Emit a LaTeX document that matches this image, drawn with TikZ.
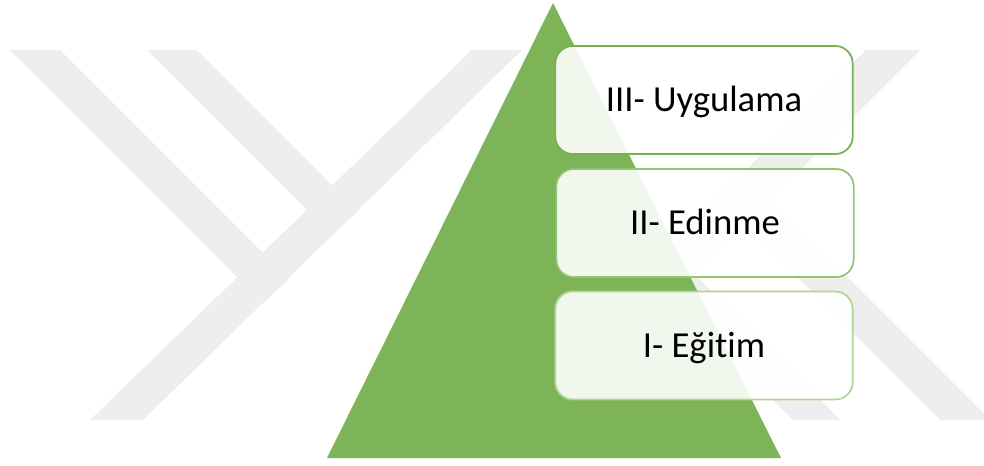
\documentclass[tikz,border=0pt]{standalone}
\usepackage{fontspec}
\setmainfont{Carlito}[Ligatures=NoCommon]
\definecolor{wmgray}{RGB}{238,238,238}
\definecolor{trigreen}{RGB}{126,180,88}
\definecolor{bordthree}{RGB}{118,178,82}
\definecolor{bordtwo}{RGB}{146,196,114}
\definecolor{bordone}{RGB}{176,213,152}
\tikzset{
  wm/.style={fill=wmgray, draw=none},
  tri/.style={fill=trigreen, draw=none},
  levelbox/.style={rectangle, rounded corners=13pt, fill=white, fill opacity=0.9,
    text opacity=1, line width=1.3pt, minimum width=223pt, minimum height=81pt,
    inner sep=0pt, text height=17.6pt, text depth=0pt,
    font=\fontsize{27.5}{32}\selectfont, text=black}
}
\begin{document}
\begin{tikzpicture}[x=0.75pt,y=-0.75pt]
\clip (0,0) rectangle (984,465);
\fill[white] (0,0) rectangle (984,465);
% watermark, left part
\fill[wm] (472,50) -- (522,50) -- (143,420) -- (90,420) -- cycle;
\fill[wm] (10,50) -- (60,50) -- (289,279) -- (263,303) -- cycle;
\fill[wm] (147,50) -- (197,50) -- (358,211) -- (332,235) -- cycle;
% watermark, right part
\fill[wm] (866,50) -- (920,50) -- (550,420) -- (496,420) -- cycle;
\fill[wm] (793,420) -- (840,420) -- (668,248) -- (644,272) -- cycle;
\fill[wm] (940,420) -- (990,420) -- (743,173) -- (718,198) -- cycle;
% pyramid
\fill[tri] (553,3) -- (781,458) -- (327,458) -- cycle;
% level boxes
\node[levelbox, draw=bordthree] (lvlthree) at (704,100) {III- Uygulama};
\node[levelbox, draw=bordtwo] (lvltwo) at (705,223) {II- Edinme};
\node[levelbox, draw=bordone] (lvlone) at (704,345.5) {I- Eğitim};
\end{tikzpicture}
\end{document}
